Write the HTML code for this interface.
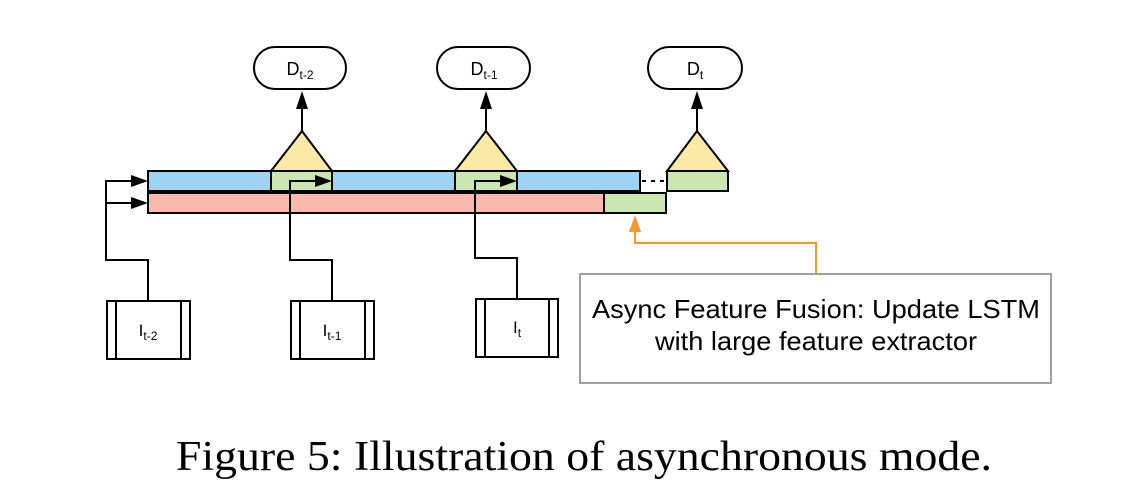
<!DOCTYPE html>
<html><head><meta charset="utf-8"><style>
html,body{margin:0;padding:0;background:#fff;}
svg{display:block;}
</style></head><body>
<svg width="1140" height="498" viewBox="0 0 1140 498" xmlns="http://www.w3.org/2000/svg">
<g stroke="#000" stroke-width="2">
<rect x="254" y="47" width="92" height="42" rx="21" fill="#fff"/>
<rect x="437" y="47" width="93" height="42" rx="21" fill="#fff"/>
<rect x="648" y="47" width="94" height="42" rx="21" fill="#fff"/>
<line x1="302" y1="131" x2="302" y2="108"/><path d="M296,109 L302,91 L308,109z" fill="#000" stroke="none"/>
<line x1="486" y1="131" x2="486" y2="108"/><path d="M480,109 L486,91 L492,109z" fill="#000" stroke="none"/>
<line x1="697" y1="131" x2="697" y2="108"/><path d="M691,109 L697,91 L703,109z" fill="#000" stroke="none"/>
<path d="M271,171 L302,131 L332,171z" fill="#fde9a6"/>
<path d="M455,171 L486,131 L517,171z" fill="#fde9a6"/>
<path d="M667,171 L697,131 L728,171z" fill="#fde9a6"/>
<rect x="148" y="171" width="492" height="20" fill="#9dd3f3"/>
<rect x="271" y="171" width="61" height="20" fill="#c9e7ae"/>
<rect x="455" y="171" width="62" height="20" fill="#c9e7ae"/>
<rect x="667" y="171" width="61" height="20" fill="#c9e7ae"/>
<line x1="642" y1="181" x2="666" y2="181" stroke-dasharray="4,5"/>
<rect x="148" y="193" width="456" height="20" fill="#fbb9ae"/>
<rect x="604" y="193" width="62" height="20" fill="#c9e7ae"/>
<polyline points="148,301 148,260 106,260 106,181 134,181" fill="none"/>
<path d="M131,175 L148,181 L131,187z" fill="#000" stroke="none"/>
<line x1="106" y1="203" x2="134" y2="203"/>
<path d="M131,197 L148,203 L131,209z" fill="#000" stroke="none"/>
<polyline points="332,301 332,260 290,260 290,181 318,181" fill="none"/>
<path d="M315,175 L332,181 L315,187z" fill="#000" stroke="none"/>
<polyline points="517,299 517,258 475,258 475,181 503,181" fill="none"/>
<path d="M500,175 L517,181 L500,187z" fill="#000" stroke="none"/>
<rect x="107" y="301" width="83" height="58" fill="#fff"/>
<line x1="116" y1="301" x2="116" y2="359"/><line x1="181" y1="301" x2="181" y2="359"/>
<rect x="291" y="301" width="83" height="58" fill="#fff"/>
<line x1="300" y1="301" x2="300" y2="359"/><line x1="365" y1="301" x2="365" y2="359"/>
<rect x="476" y="299" width="82" height="58" fill="#fff"/>
<line x1="485" y1="299" x2="485" y2="357"/><line x1="549" y1="299" x2="549" y2="357"/>
</g>
<polyline points="635,230 635,243 816,243 816,274" fill="none" stroke="#f5962f" stroke-width="2"/>
<path d="M629,232 L635,215 L641,232z" fill="#f5962f"/>
<rect x="580" y="274" width="471" height="109" fill="#fff" stroke="#a0a0a0" stroke-width="2"/>
<g font-family="Liberation Sans, sans-serif" fill="#000">
<text x="592" y="318" font-size="26" textLength="448" lengthAdjust="spacingAndGlyphs">Async Feature Fusion: Update LSTM</text>
<text x="655" y="350" font-size="26" textLength="322" lengthAdjust="spacingAndGlyphs">with large feature extractor</text>
<text x="300" y="75" font-size="18" text-anchor="middle">D<tspan font-size="12" dy="4">t-2</tspan></text>
<text x="484" y="75" font-size="18" text-anchor="middle">D<tspan font-size="12" dy="4">t-1</tspan></text>
<text x="695" y="75" font-size="18" text-anchor="middle">D<tspan font-size="12" dy="4">t</tspan></text>
<text x="148" y="336" font-size="17" text-anchor="middle">I<tspan font-size="12" dy="4">t-2</tspan></text>
<text x="332" y="336" font-size="17" text-anchor="middle">I<tspan font-size="12" dy="4">t-1</tspan></text>
<text x="517" y="333" font-size="17" text-anchor="middle">I<tspan font-size="12" dy="4">t</tspan></text>
</g>
<text x="176" y="470" font-family="Liberation Serif, serif" font-size="42" textLength="816" lengthAdjust="spacingAndGlyphs">Figure 5: Illustration of asynchronous mode.</text>
</svg>
</body></html>
